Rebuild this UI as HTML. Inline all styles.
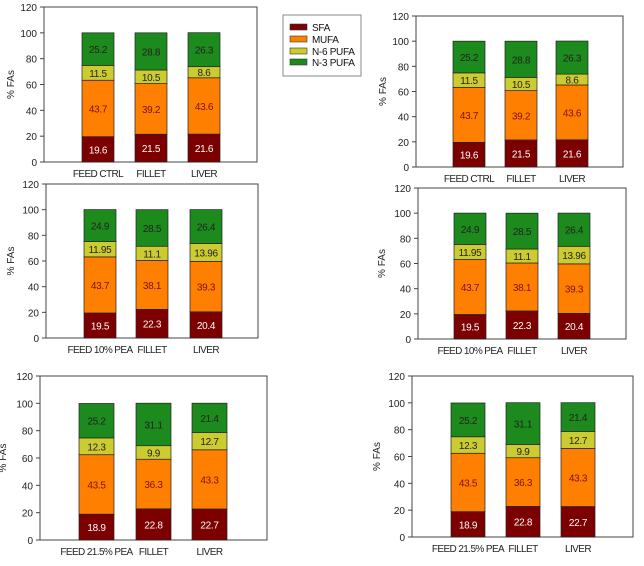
<!DOCTYPE html>
<html><head><meta charset="utf-8"><style>
body{margin:0;background:#fff;width:644px;height:561px;overflow:hidden;font-family:"Liberation Sans",sans-serif}
svg text{font-family:"Liberation Sans",sans-serif}
</style></head><body>
<svg id="c" width="644" height="561">
<g>
<rect x="283" y="15" width="78" height="61" fill="#fff" stroke="#888" stroke-width="1"/>
</g>
</svg>
<script>
const seriesNames=["SFA","MUFA","N-6 PUFA","N-3 PUFA"];
const colors=["#7d0000","#ff8000","#cccc30","#1c8a1c"];
const textColors=["#ffffff","#7d1000","#222","#222"];
const yTicks=[0,20,40,60,80,100,120];
const catsCtrl=["FEED CTRL","FILLET","LIVER"];
const cats10=["FEED 10% PEA","FILLET","LIVER"];
const cats21=["FEED 21.5% PEA","FILLET","LIVER"];
const sfaCtrl=[19.6,21.5,21.6], mufaCtrl=[43.7,39.2,43.6], n6Ctrl=[11.5,10.5,8.6], n3Ctrl=[25.2,28.8,26.3];
const sfa10=[19.5,22.3,20.4], mufa10=[43.7,38.1,39.3], n610=[11.95,11.1,13.96], n310=[24.9,28.5,26.4];
const sfa21=[18.9,22.8,22.7], mufa21=[43.5,36.3,43.3], n621=[12.3,9.9,12.7], n321=[25.2,31.1,21.4];

const NS="http://www.w3.org/2000/svg";
const svg=document.getElementById('c');
function mk(tag,attrs,parent){const e=document.createElementNS(NS,tag);for(const k in attrs)e.setAttribute(k,attrs[k]);(parent||svg).appendChild(e);return e;}

seriesNames.forEach((n,i)=>{
  const g=mk('g',{});
  
  
  const y=[27,39,51,62][i];
  mk('rect',{x:290,y:y-3,width:17,height:6,fill:colors[i],stroke:'#333','stroke-width':0.6},g);
  const t=mk('text',{x:312,y:y+4,'font-size':10,'letter-spacing':-0.3,fill:'#111'},g);t.textContent=n;
});

const panels=[
 {id:'ctrl-left',L:44,R:257,t:7,b:162,bars:[82,135,188],bw:32,cats:catsCtrl,d:[sfaCtrl,mufaCtrl,n6Ctrl,n3Ctrl],ytx:14},
 {id:'ctrl-right',L:416,R:623,t:16,b:167,bars:[453,505,556],bw:32,cats:catsCtrl,d:[sfaCtrl,mufaCtrl,n6Ctrl,n3Ctrl],ytx:386},
 {id:'pea10-left',L:46,R:258,t:184,b:338,bars:[84,136,190],bw:32,cats:cats10,d:[sfa10,mufa10,n610,n310],ytx:14},
 {id:'pea10-right',L:418,R:626,t:188,b:339,bars:[454,506,558],bw:32,cats:cats10,d:[sfa10,mufa10,n610,n310],ytx:385},
 {id:'pea21-left',L:40,R:267,t:376,b:540,bars:[79,136,192],bw:35,cats:cats21,d:[sfa21,mufa21,n621,n321],ytx:6},
 {id:'pea21-right',L:412,R:633,t:376,b:537,bars:[451,506,561],bw:34,cats:cats21,d:[sfa21,mufa21,n621,n321],ytx:380}
];
panels.forEach(p=>{
  const g=mk('g',{});
  
  
  const ys=v=>p.b-(v/120)*(p.b-p.t);
  mk('rect',{x:p.L,y:p.t,width:p.R-p.L,height:p.b-p.t,fill:'none',stroke:'#444','stroke-width':1},g);
  yTicks.forEach(v=>{
    mk('line',{x1:p.L-4,x2:p.L,y1:ys(v),y2:ys(v),stroke:'#444'},g);
    const t=mk('text',{x:p.L-7,y:ys(v)+4,'font-size':10,'text-anchor':'end',fill:'#222'},g);
    
    
    t.textContent=v;
  });
  const cy=(p.t+p.b)/2;
  const yt=mk('text',{x:p.ytx,y:cy,'font-size':10,'text-anchor':'middle',fill:'#222',transform:`rotate(-90 ${p.ytx} ${cy})`},g);
  
  
  yt.textContent='% FAs';
  p.cats.forEach((c,ci)=>{
    const x=p.bars[ci];
    let cum=0;
    p.d.forEach((arr,si)=>{
      const v=arr[ci];
      const y1=ys(cum),y2=ys(Math.min(cum+v,100.2));
      const r=mk('rect',{x:x,y:y2,width:p.bw,height:y1-y2,fill:colors[si],stroke:'#222','stroke-width':0.7},g);
      
      
      const lt=mk('text',{x:x+p.bw/2,y:(y1+y2)/2+4,'font-size':10,'letter-spacing':-0.3,'text-anchor':'middle',fill:textColors[si]},g);
      
      
      lt.textContent=String(v);
      cum+=v;
    });
    const xl=mk('text',{x:x+p.bw/2,y:p.b+15,'font-size':10,'letter-spacing':-0.6,'text-anchor':'middle',fill:'#222'},g);
    
    
    xl.textContent=c;
  });
});
</script>
</body></html>
